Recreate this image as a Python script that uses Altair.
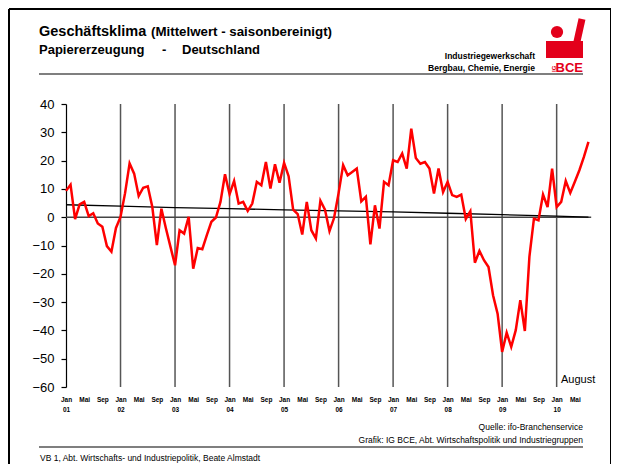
import altair as alt
import pandas as pd

FONT = "Liberation Sans"

# Monthly business climate, Jan 2001 .. Aug 2010
values = [
    9.3, 11.5, -0.7, 4.5, 5.4, 0.4, 1.4, -2.2, -3.4, -10.2, -12.2, -3.8,      # 2001
    0.1, 8.5, 19.0, 15.4, 7.5, 10.4, 10.9, 3.6, -9.9, 3.0, -4.0, -10.5,       # 2002
    -17.0, -4.6, -5.8, 0.1, -18.2, -10.9, -11.3, -6.3, -1.6, -0.1, 5.4, 15.2, # 2003
    8.1, 12.8, 4.8, 5.4, 2.2, 4.8, 12.5, 11.3, 19.5, 10.1, 18.7, 12.2,        # 2004
    19.2, 14.5, 2.7, 1.1, -6.1, 5.4, -4.6, -7.5, 5.8, 2.7, -4.9, -0.3,        # 2005
    8.5, 18.4, 14.8, 16.0, 17.2, 5.6, 7.2, -9.6, 4.2, -4.0, 12.5, 11.3,       # 2006
    20.1, 19.5, 22.5, 17.2, 31.3, 20.9, 18.9, 19.5, 17.2, 8.4, 17.2, 8.9,     # 2007
    12.5, 7.8, 7.2, 8.0, -0.6, 2.1, -16.1, -11.9, -15.2, -17.6, -27.6, -34.1, # 2008
    -47.6, -40.8, -45.8, -39.9, -29.3, -40.2, -14.0, -0.5, -1.1, 8.0, 3.6, 17.2,  # 2009
    3.6, 5.4, 12.8, 8.6, 12.5, 16.6, 21.3, 26.6,                              # 2010
]
trend_months = [0, 12, 24, 36, 48, 60, 72, 84, 96, 108, 115]
trend_values = [4.4, 3.9, 3.4, 3.0, 2.6, 2.2, 1.9, 1.4, 0.9, 0.4, 0.0]
jan_lines = [12, 24, 36, 48, 60, 72, 84, 96, 108]
month_labels = ["Jan", "Mai", "Sep"]
year_labels = ["01", "02", "03", "04", "05", "06", "07", "08", "09", "10"]
y_ticks = [40, 30, 20, 10, 0, -10, -20, -30, -40, -50, -60]

df = pd.DataFrame({"m": list(range(len(values))), "v": values})
trend = pd.DataFrame({"m": trend_months, "v": trend_values})
jan = pd.DataFrame({"m": jan_lines, "v": [40] * len(jan_lines), "v2": [-60] * len(jan_lines)})
zero = pd.DataFrame({"m": [0], "m2": [115.6], "v": [0]})

W, H = 527, 283
xscale = alt.Scale(domain=[0, 116], nice=False, zero=False)
yscale = alt.Scale(domain=[-60, 40], nice=False)

mlist = "[" + ",".join("'%s'" % s for s in month_labels) + "]"
ylist = "[" + ",".join("'%s'" % s for s in year_labels) + "]"
label_expr = (
    f"datum.value % 12 == 0 ? [{mlist}[0], {ylist}[floor(datum.value / 12)]]"
    f" : {mlist}[floor((datum.value % 12) / 4)]"
)

xaxis = alt.Axis(
    values=list(range(0, 113, 4)), labelExpr=label_expr, domain=False, ticks=False,
    grid=False, title=None, labelFontSize=6.5, labelFontWeight="bold", labelFont=FONT,
    labelPadding=9, labelLineHeight=10, labelOverlap=False, labelFlush=False,
    labelBound=False, labelColor="black", labelAlign="center",
)
yaxis = alt.Axis(
    values=y_ticks, domainColor="black", domainWidth=1.2, tickColor="black", tickSize=5,
    tickWidth=1.2, labelFontSize=13, labelFont=FONT, labelPadding=7, labelColor="black",
    grid=False, title=None,
)
X = alt.X("m:Q", scale=xscale, axis=xaxis)
Y = alt.Y("v:Q", scale=yscale, axis=yaxis)

jan_rules = alt.Chart(jan).mark_rule(color="#555555", strokeWidth=1.5).encode(x=X, y=Y, y2="v2:Q")
zero_rule = alt.Chart(zero).mark_rule(color="#444444", strokeWidth=1.5).encode(x=X, x2="m2:Q", y=Y)
trend_line = alt.Chart(trend).mark_line(color="black", strokeWidth=1.3).encode(x=X, y=Y)
red = alt.Chart(df).mark_line(color="#ff0000", strokeWidth=2.5).encode(x=X, y=Y)

OX, OY = 66, 104  # page position of plot origin


def txt(s, px, py, size, weight="normal", align="left", color="black", angle=0):
    return alt.Chart(alt.Data(values=[{}])).mark_text(
        text=s, fontSize=size, fontWeight=weight, align=align, baseline="alphabetic",
        color=color, font=FONT, angle=angle,
    ).encode(x=alt.value(px - OX), y=alt.value(py - OY))


def hline(x1, x2, py, color="#555555", w=1.5):
    return alt.Chart(alt.Data(values=[{}])).mark_rule(color=color, strokeWidth=w).encode(
        x=alt.value(x1 - OX), x2=alt.value(x2 - OX), y=alt.value(py - OY)
    )


def vline(px, y1, y2, color="black", w=1.5):
    return alt.Chart(alt.Data(values=[{}])).mark_rule(color=color, strokeWidth=w).encode(
        x=alt.value(px - OX), y=alt.value(y1 - OY), y2=alt.value(y2 - OY)
    )


LOGO = "#e3001b"
logo_body = alt.Chart(alt.Data(values=[{}])).mark_rect(color=LOGO).encode(
    x=alt.value(546 - OX), x2=alt.value(583 - OX), y=alt.value(41 - OY), y2=alt.value(58 - OY)
)
logo_head = alt.Chart(alt.Data(values=[{}])).mark_point(
    shape="circle", filled=True, color=LOGO, opacity=1, size=150
).encode(x=alt.value(557 - OX), y=alt.value(32 - OY))
logo_arm = alt.Chart(alt.Data(values=[{}])).mark_rule(color=LOGO, strokeWidth=7).encode(
    x=alt.value(576 - OX), x2=alt.value(582 - OX), y=alt.value(46 - OY), y2=alt.value(19 - OY)
)

layers = [
    jan_rules, zero_rule, trend_line, red,
    txt("Geschäftsklima", 39, 36, 14.5, "bold"),
    txt("(Mittelwert - saisonbereinigt)", 151, 36, 13.3, "bold"),
    txt("Papiererzeugung", 39, 54, 13, "bold"),
    txt("-", 162, 54, 13, "bold"),
    txt("Deutschland", 182, 54, 13, "bold"),
    txt("Industriegewerkschaft", 535, 59, 8.5, "bold", "right"),
    txt("Bergbau, Chemie, Energie", 535, 71, 8.6, "bold", "right"),
    hline(39, 583, 74),
    logo_body, logo_head, logo_arm,
    txt("BCE", 583, 72, 13, "bold", "right", LOGO),
    txt("IG", 556, 72, 6, "bold", "left", LOGO, 270),
    txt("August", 561, 383, 11),
    txt("Quelle: ifo-Branchenservice", 583, 430, 8.5, "normal", "right"),
    txt("Grafik: IG BCE, Abt. Wirtschaftspolitik und Industriegruppen", 583, 443, 8.5, "normal", "right"),
    hline(39, 583, 447),
    txt("VB 1, Abt. Wirtschafts- und Industriepolitik, Beate Almstadt", 40, 461, 8.5),
    vline(9, 9, 470, "black", 2),
    hline(9, 611, 9, "black", 2),
    vline(611, 9, 470, "black", 2),
]

chart = alt.layer(*layers).properties(
    width=W, height=H,
    autosize=alt.AutoSizeParams(type="none"),
    padding={"left": OX - 8, "top": OY - 8, "right": 603 - (OX - 8) - W, "bottom": 456 - (OY - 8) - H},
    background="white",
).configure_view(stroke=None)

chart.save("out.html", embed_options={"renderer": "svg", "actions": False})
